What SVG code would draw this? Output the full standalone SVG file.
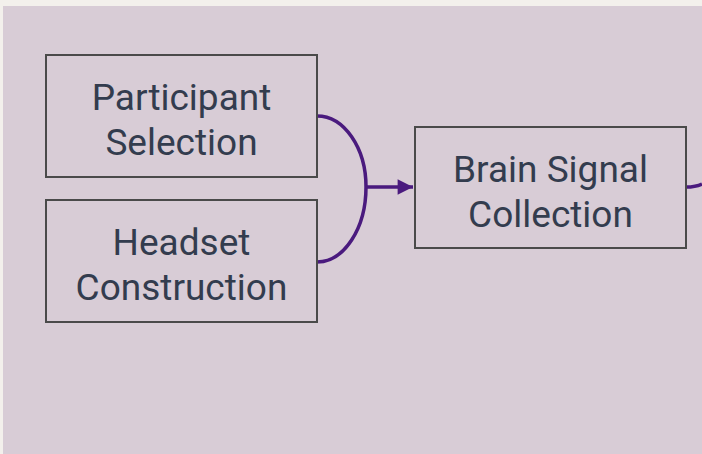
<svg xmlns="http://www.w3.org/2000/svg" width="702" height="454" viewBox="0 0 702 454">
<defs>
<style>
.box{fill:#d8ccd6;stroke:#4a4a4a;stroke-width:2}
.lbl{font-family:Roboto,"Liberation Sans",sans-serif;font-size:37px;fill:#333c4e;text-anchor:middle}
.edge{fill:none;stroke:#4a1a7e;stroke-width:3.5}
</style>
<marker id="arr" viewBox="0 0 10 10" refX="10" refY="5" markerWidth="4.6" markerHeight="4.4" orient="auto" markerUnits="strokeWidth">
<path d="M0,0 L10,5 L0,10 z" fill="#4a1a7e"/>
</marker>
</defs>
<rect x="0" y="0" width="702" height="454" fill="#f3f0ec"/>
<rect x="3" y="6" width="699" height="448" fill="#d8ccd6"/>
<g id="connectors">
<path class="edge" d="M317,116 A49,71 0 0 1 366,187 A49,75 0 0 1 317,262"/>
<path class="edge" d="M366,187 L413,187" marker-end="url(#arr)"/>
<path class="edge" d="M686,187 Q696,187 702,184"/>
</g>
<g id="participant-selection">
<rect class="box" x="46" y="55" width="271" height="122"/>
<text class="lbl" x="181.5" y="110">Participant</text>
<text class="lbl" x="181.5" y="155">Selection</text>
</g>
<g id="headset-construction">
<rect class="box" x="46" y="200" width="271" height="122"/>
<text class="lbl" x="181.5" y="255">Headset</text>
<text class="lbl" x="181.5" y="300">Construction</text>
</g>
<g id="brain-signal-collection">
<rect class="box" x="415" y="127" width="271" height="121"/>
<text class="lbl" x="550.5" y="182">Brain Signal</text>
<text class="lbl" x="550.5" y="227">Collection</text>
</g>
</svg>
